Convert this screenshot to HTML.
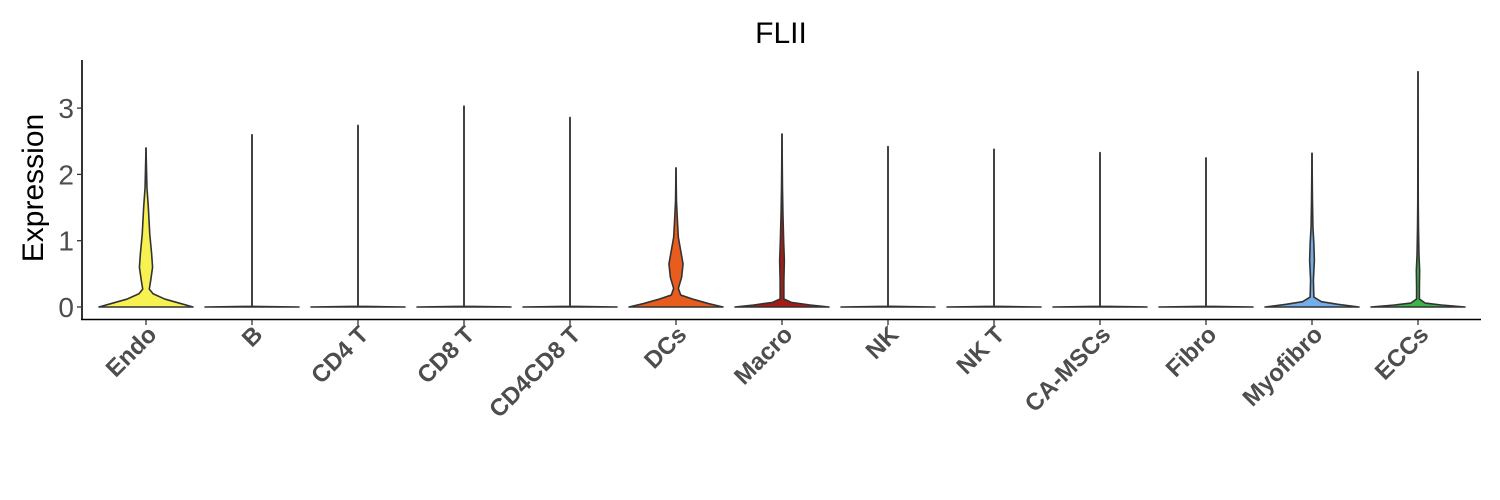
<!DOCTYPE html>
<html><head><meta charset="utf-8"><style>
body{margin:0;background:#fff;}
svg{display:block;font-family:"Liberation Sans",sans-serif;}
</style></head><body>
<svg id="chart" width="1500" height="500">
<text x="781" y="43" font-size="30" text-anchor="middle" fill="#000">FLII</text>
<text transform="translate(43,188) rotate(-90)" font-size="30" text-anchor="middle" fill="#000">Expression</text>
<g id="plot"></g>
</svg>
<script>
const categories=["Endo","B","CD4 T","CD8 T","CD4CD8 T","DCs","Macro","NK","NK T","CA-MSCs","Fibro","Myofibro","ECCs"];
const colors=["#f7f152","#f7f152","#f7f152","#f7f152","#f7f152","#e85c1e","#a61c14","#cccccc","#cccccc","#cccccc","#cccccc","#73aee8","#3db54a"];
const maxValues=[2.4,2.6,2.74,3.03,2.86,2.1,2.61,2.42,2.38,2.33,2.25,2.32,3.55];
// density knots: [value, relative half-width]
const profiles=[
 [[0,1],[0.05,0.75],[0.12,0.4],[0.2,0.15],[0.27,0.07],[0.4,0.1],[0.6,0.14],[0.8,0.12],[1.1,0.08],[1.5,0.05],[1.8,0.02],[2.4,0]],
 [[0,1],[0.01,0.0]],[[0,1],[0.01,0]],[[0,1],[0.01,0]],[[0,1],[0.01,0]],
 [[0,1],[0.05,0.7],[0.12,0.35],[0.18,0.1],[0.28,0.05],[0.45,0.12],[0.65,0.15],[0.85,0.1],[1.05,0.05],[1.3,0.03],[1.6,0.01],[2.1,0]],
 [[0,1],[0.03,0.6],[0.07,0.2],[0.12,0.04],[0.4,0.04],[0.7,0.05],[1.0,0.035],[1.4,0.02],[1.8,0.01],[2.61,0]],
 [[0,1],[0.01,0]],[[0,1],[0.01,0]],[[0,1],[0.01,0]],[[0,1],[0.01,0]],
 [[0,1],[0.04,0.55],[0.08,0.2],[0.15,0.04],[0.4,0.03],[0.7,0.05],[0.95,0.04],[1.2,0.02],[1.6,0.01],[2.32,0]],
 [[0,1],[0.03,0.5],[0.06,0.15],[0.12,0.03],[0.3,0.03],[0.55,0.035],[0.8,0.02],[1.2,0.01],[1.6,0.005],[3.55,0]]
];
const yTicks=[0,1,2,3];
const X0=146,DX=106,HW=47;
const y=v=>307-v*66.3;
const x=i=>X0+i*DX;
const NS="http://www.w3.org/2000/svg";
const g=document.getElementById('plot');
function mk(t,a){const e=document.createElementNS(NS,t);for(const k in a)e.setAttribute(k,a[k]);g.appendChild(e);return e;}
let ax=mk('line',{x1:82,y1:60,x2:82,y2:320,stroke:'#000','stroke-width':1.6});


let bx=mk('line',{x1:81,y1:319.5,x2:1481,y2:319.5,stroke:'#000','stroke-width':1.6});


yTicks.forEach(t=>{
 const l=mk('line',{x1:77,x2:82,y1:y(t),y2:y(t),stroke:'#333','stroke-width':1.3});
 
 
 const tx=mk('text',{x:74,y:y(t)+10,'font-size':28,'text-anchor':'end',fill:'#4d4d4d'});
 tx.textContent=t;
 
 
});
categories.forEach((c,i)=>{
 const cx=x(i);
 const p=profiles[i];
 const ln=mk('line',{x1:cx,x2:cx,y1:y(0),y2:y(maxValues[i]),stroke:'#333','stroke-width':1.6});
 
 
 let right=[],left=[];
 p.forEach(([v,w])=>{right.push([cx+w*HW,y(v)]);left.push([cx-w*HW,y(v)]);});
 right.push([cx,y(maxValues[i])]);
 let d='M'+left.map(q=>q.join(',')).join(' L')+' L'+right.reverse().map(q=>q.join(',')).join(' L')+'Z';
 const vp=mk('path',{d:d,fill:colors[i],stroke:'#333','stroke-width':1.6,'stroke-linejoin':'round'});
 
 
 const tk=mk('line',{x1:cx,x2:cx,y1:320,y2:325,stroke:'#333','stroke-width':1.3});
 
 
 const lb=mk('text',{transform:`translate(${cx+12},${336}) rotate(-45)`,'font-size':24,'font-weight':'bold','text-anchor':'end',fill:'#4d4d4d'});
 lb.textContent=c;
 
 
});
</script>
</body></html>
